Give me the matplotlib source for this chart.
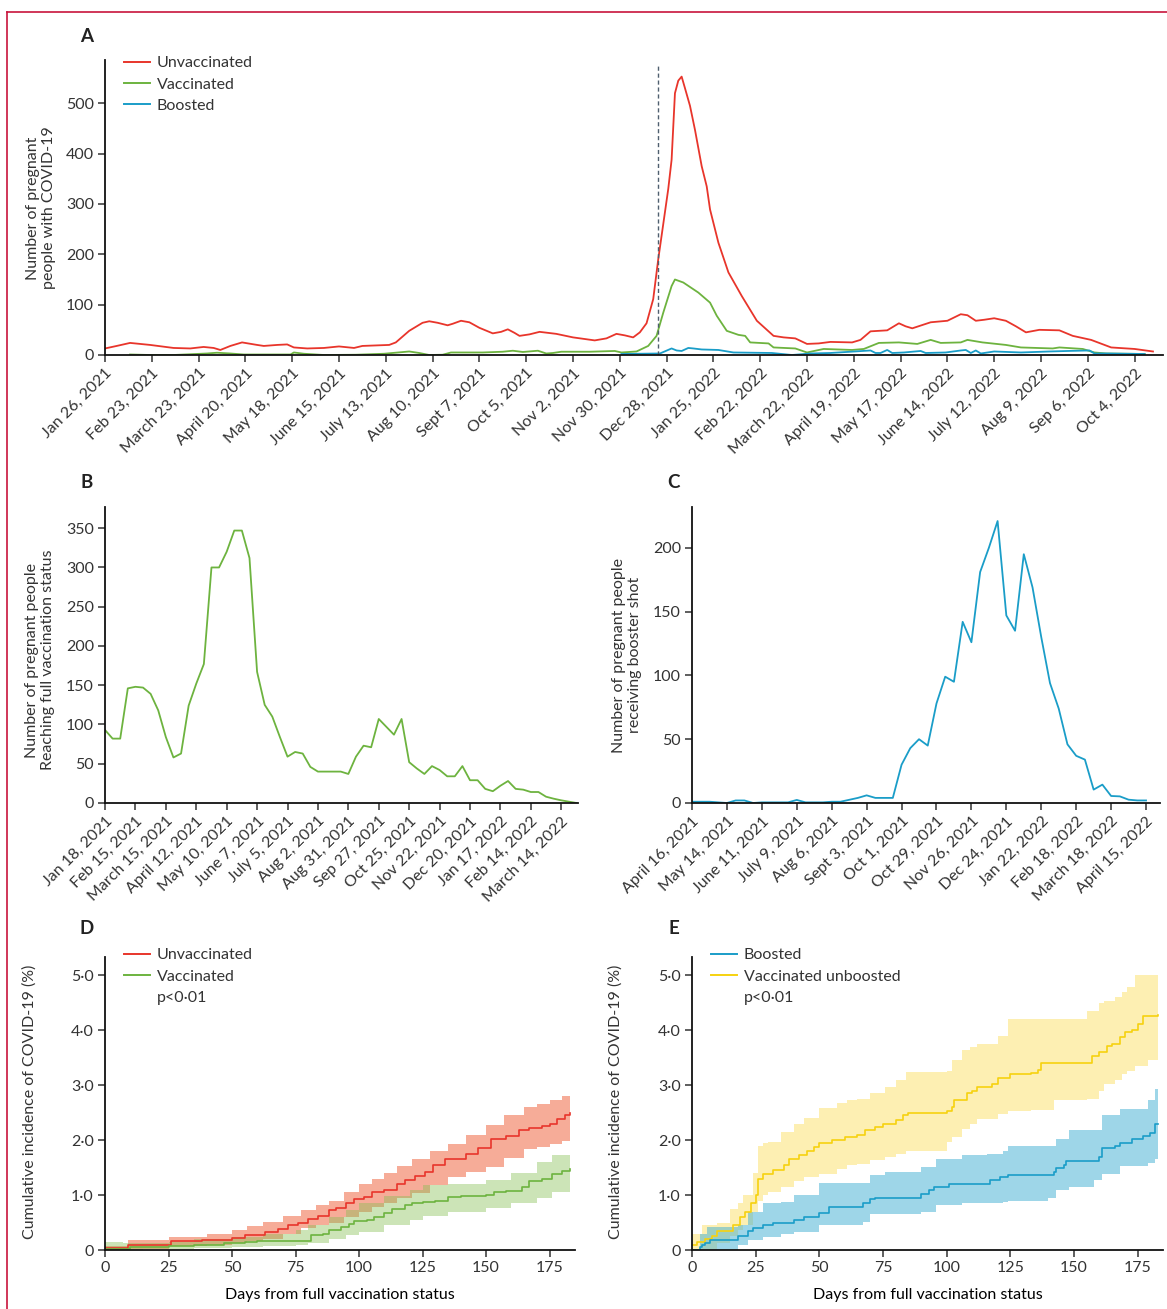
import matplotlib
matplotlib.use("Agg")
import matplotlib.pyplot as plt
from matplotlib.lines import Line2D
import numpy as np

W, H = 1167, 1309

# ---------------- panel A: daily cases (days since Jan 26, 2021) ----------------
a_tick_labels = ["Jan 26, 2021", "Feb 23, 2021", "March 23, 2021", "April 20, 2021",
                 "May 18, 2021", "June 15, 2021", "July 13, 2021", "Aug 10, 2021",
                 "Sept 7, 2021", "Oct 5, 2021", "Nov 2, 2021", "Nov 30, 2021",
                 "Dec 28, 2021", "Jan 25, 2022", "Feb 22, 2022", "March 22, 2022",
                 "April 19, 2022", "May 17, 2022", "June 14, 2022", "July 12, 2022",
                 "Aug 9, 2022", "Sep 6, 2022", "Oct 4, 2022"]
omicron_day = 331

unvax_days = [0, 7, 15, 27, 41, 51, 59, 65, 69, 75, 82, 91, 95, 103, 109, 113, 121, 131, 140, 149,
              154, 162, 170, 174, 182, 190, 194, 199, 205, 208, 213, 218, 224, 232, 237, 241, 245, 248, 254, 260,
              270, 280, 293, 300, 306, 311, 316, 320, 324, 328, 331, 334, 337, 339, 341, 343, 345, 347, 350, 353,
              357, 360, 362, 367, 373, 381, 390, 400, 406, 413, 420, 427, 434, 447, 452, 458, 468, 475, 479, 483,
              494, 504, 512, 516, 521, 526, 532, 539, 545, 551, 559, 571, 579, 590, 602, 616, 627]
unvax_cases = [13, 18, 24, 20, 14, 13, 16, 14, 10, 18, 25, 20, 18, 20, 21, 15, 13, 14, 17, 14,
               18, 19, 20, 25, 48, 64, 67, 64, 59, 62, 68, 65, 54, 43, 46, 51, 44, 38, 41, 46,
               42, 35, 29, 33, 42, 39, 35, 45, 63, 111, 190, 260, 330, 388, 520, 545, 553, 530, 495, 447,
               375, 335, 289, 223, 164, 117, 68, 38, 35, 33, 22, 23, 26, 25, 30, 47, 49, 63, 57, 53,
               65, 68, 81, 79, 68, 70, 73, 68, 57, 45, 50, 49, 38, 30, 15, 12, 7]

vax_days = [15, 27, 41, 61, 67, 75, 83, 111, 113, 119, 131, 150, 167, 182, 188, 194, 202, 207, 226, 238,
            244, 250, 259, 264, 268, 273, 290, 305, 309, 318, 325, 330, 334, 339, 341, 346, 355, 362, 366, 372,
            379, 383, 386, 397, 400, 413, 420, 430, 447, 454, 463, 475, 486, 494, 500, 512, 516, 525, 539, 548,
            567, 571, 585, 592, 599, 622]
vax_cases = [1, 0, 0, 3, 4.5, 3, 1, 1, 5, 2.5, 0, 0.5, 2.5, 7, 4, 0, 0.5, 5, 5, 6.5,
             8.5, 6, 8.5, 3, 4, 6.5, 6.5, 8, 5, 7, 18, 38, 84, 137, 150, 144, 124, 104, 78, 48,
             40, 38, 25, 23, 15, 13, 5, 12, 10, 12, 24, 25, 22, 30, 24, 25, 30, 25, 20, 15,
             13, 15, 12, 5, 3, 2]

boost_days = [309, 332, 339, 342, 345, 349, 352, 357, 367, 376, 399, 411, 422, 434, 458, 461, 464, 468,
              471, 478, 488, 491, 503, 512, 515, 518, 521, 524, 532, 548, 565, 576, 589, 592, 599, 622]
boost_cases = [2, 3, 13, 9, 8, 14, 13, 11, 10, 5, 4, 0, 3, 4, 9, 4, 4, 10,
               4, 5, 8, 4, 5, 9, 10, 4, 9, 3, 7, 5, 7, 8, 9, 3, 3, 2]

# ---------------- panel B: weekly full vaccinations ----------------
b_tick_labels = ["Jan 18, 2021", "Feb 15, 2021", "March 15, 2021", "April 12, 2021",
                 "May 10, 2021", "June 7, 2021", "July 5, 2021", "Aug 2, 2021",
                 "Aug 31, 2021", "Sep 27, 2021", "Oct 25, 2021", "Nov 22, 2021",
                 "Dec 20, 2021", "Jan 17, 2022", "Feb 14, 2022", "March 14, 2022"]
full_vax_weekly = [93, 82, 82, 146, 148, 147, 139, 118, 84, 58, 63, 124, 152, 177, 300, 300, 320, 347,
                   347, 312, 167, 125, 110, 84, 59, 65, 63, 46, 40, 40, 40, 40, 37, 59, 73, 71, 107,
                   97, 87, 107, 52, 44, 37, 47, 42, 34, 34, 47, 29, 29, 18, 15, 22, 28, 18, 17, 14,
                   14, 8, 5.5, 3.4, 1.7, 0]

# ---------------- panel C: weekly booster shots ----------------
c_tick_labels = ["April 16, 2021", "May 14, 2021", "June 11, 2021", "July 9, 2021",
                 "Aug 6, 2021", "Sept 3, 2021", "Oct 1, 2021", "Oct 29, 2021",
                 "Nov 26, 2021", "Dec 24, 2021", "Jan 22, 2022", "Feb 18, 2022",
                 "March 18, 2022", "April 15, 2022"]
booster_weekly = [1, 1, 1, 0.5, 0, 2, 2, 0, 0.5, 0.5,
                  0.5, 0.5, 2.4, 0.5, 0.5, 0.5, 1, 1, 2.5, 4,
                  6, 4, 4, 4, 30, 43, 50, 45, 78, 99,
                  95, 142, 126, 181, 200, 221, 147, 135, 195, 169,
                  130, 94, 74, 46, 37, 34, 10.5, 14.4, 5.5, 5.2,
                  2.6, 2, 2]

# ---------------- panel D: cumulative incidence ----------------
d_unvax_days = [0, 9, 26, 38, 50, 55, 63, 68, 72, 76, 80, 84, 88, 91, 95, 98, 102, 105, 110, 115,
                118, 122, 126, 129, 134, 142, 147, 152, 158, 163, 167, 172, 175, 178, 181, 183]
d_unvax_inc = [0.03, 0.1, 0.17, 0.19, 0.22, 0.28, 0.33, 0.38, 0.45, 0.5, 0.57, 0.62, 0.72, 0.77, 0.85,
               0.93, 0.97, 1.05, 1.1, 1.2, 1.28, 1.35, 1.42, 1.55, 1.65, 1.75, 1.85, 2.02, 2.08, 2.18,
               2.22, 2.25, 2.3, 2.38, 2.45, 2.5]
d_unvax_ci_days = [0, 9, 25, 40, 50, 56, 62, 70, 77, 83, 88, 94, 100, 105, 110, 115, 121, 128, 135,
                   142, 150, 157, 165, 170, 175, 180, 183]
d_unvax_ci_lo = [0, 0.02, 0.08, 0.1, 0.12, 0.16, 0.2, 0.3, 0.4, 0.45, 0.5, 0.6, 0.7, 0.78, 0.85, 0.95,
                 1.03, 1.18, 1.33, 1.42, 1.51, 1.67, 1.84, 1.88, 1.93, 1.98, 2.03]
d_unvax_ci_hi = [0.08, 0.18, 0.24, 0.3, 0.36, 0.43, 0.51, 0.62, 0.73, 0.82, 0.9, 1.05, 1.2, 1.3, 1.4,
                 1.52, 1.66, 1.8, 1.93, 2.1, 2.27, 2.45, 2.6, 2.65, 2.72, 2.8, 2.93]

d_vax_days = [0, 10, 25, 35, 47, 55, 60, 81, 86, 88, 93, 96, 98, 103, 106, 110, 113, 118, 121, 125,
              130, 135, 140, 150, 153, 158, 164, 167, 172, 176, 180, 183]
d_vax_inc = [0.02, 0.05, 0.08, 0.1, 0.12, 0.14, 0.17, 0.27, 0.3, 0.36, 0.42, 0.48, 0.52, 0.55, 0.6,
             0.68, 0.75, 0.82, 0.85, 0.87, 0.9, 0.96, 0.98, 1.0, 1.05, 1.08, 1.15, 1.25, 1.3, 1.38,
             1.43, 1.47]
d_vax_ci_days = [0, 7, 15, 25, 35, 50, 62, 75, 80, 88, 95, 100, 110, 120, 125, 135, 150, 160, 170, 176, 183]
d_vax_ci_lo = [0, 0, 0.01, 0.01, 0.03, 0.05, 0.07, 0.09, 0.12, 0.2, 0.27, 0.33, 0.45, 0.55, 0.62, 0.7,
               0.76, 0.85, 0.95, 1.05, 1.15]
d_vax_ci_hi = [0.15, 0.12, 0.12, 0.15, 0.2, 0.24, 0.3, 0.36, 0.45, 0.6, 0.72, 0.85, 0.98, 1.1, 1.18,
               1.2, 1.27, 1.4, 1.6, 1.72, 1.8]

# ---------------- panel E: cumulative incidence ----------------
e_boost_days = [0, 3, 4, 5, 7, 18, 22, 24, 28, 32, 40, 44, 50, 54, 67, 70, 72, 90, 93, 95,
                101, 117, 121, 124, 142, 143, 146, 147, 160, 161, 166, 168, 173, 177, 180, 182, 183]
e_boost_inc = [0.0, 0.05, 0.1, 0.13, 0.18, 0.25, 0.35, 0.4, 0.45, 0.5, 0.55, 0.6, 0.68, 0.78, 0.85,
               0.92, 0.95, 1.02, 1.1, 1.15, 1.2, 1.28, 1.33, 1.37, 1.42, 1.5, 1.55, 1.62, 1.7, 1.85,
               1.9, 1.95, 2.02, 2.08, 2.12, 2.3, 2.3]
e_boost_ci_days = [3, 6, 18, 22, 28, 35, 40, 50, 67, 70, 76, 90, 96, 106, 116, 122, 124, 140, 143,
                   148, 158, 161, 168, 179, 182, 183]
e_boost_ci_lo = [0, 0, 0.09, 0.18, 0.24, 0.3, 0.33, 0.45, 0.51, 0.65, 0.65, 0.7, 0.82, 0.85, 0.85,
                 0.88, 0.9, 0.95, 1.09, 1.15, 1.27, 1.39, 1.52, 1.58, 1.66, 1.66]
e_boost_ci_hi = [0.3, 0.42, 0.45, 0.7, 0.85, 0.88, 1.0, 1.21, 1.21, 1.36, 1.42, 1.51, 1.66, 1.72, 1.75,
                 1.8, 1.9, 1.9, 2.02, 2.18, 2.18, 2.45, 2.57, 2.72, 2.93, 2.93]

e_unboost_days = [0, 2, 5, 8, 10, 16, 19, 21, 23, 25, 26, 28, 32, 36, 38, 42, 45, 48, 50, 55,
                  60, 65, 68, 72, 75, 80, 83, 85, 100, 102, 103, 108, 110, 112, 118, 120, 125, 133, 136, 137,
                  155, 157, 160, 163, 165, 168, 170, 173, 175, 177, 183]
e_unboost_inc = [0.1, 0.15, 0.2, 0.25, 0.35, 0.45, 0.6, 0.7, 0.85, 1.0, 1.3, 1.38, 1.45, 1.55, 1.65,
                 1.72, 1.8, 1.88, 1.95, 2.0, 2.05, 2.1, 2.18, 2.23, 2.3, 2.37, 2.45, 2.5, 2.53, 2.6,
                 2.72, 2.85, 2.9, 2.97, 3.02, 3.13, 3.2, 3.22, 3.28, 3.4, 3.4, 3.52, 3.6, 3.72, 3.75,
                 3.88, 3.97, 4.0, 4.12, 4.25, 4.28]
e_unboost_ci_days = [0, 4, 10, 15, 18, 20, 24, 26, 28, 30, 35, 40, 44, 50, 57, 61, 65, 70, 76, 80,
                     84, 100, 102, 106, 109, 112, 120, 124, 133, 142, 155, 160, 162, 166, 169, 171, 174, 179, 183]
e_unboost_ci_lo = [0, 0.01, 0.12, 0.25, 0.36, 0.45, 0.7, 0.9, 1.0, 1.05, 1.15, 1.25, 1.33, 1.39, 1.48,
                   1.54, 1.57, 1.63, 1.69, 1.75, 1.81, 1.96, 2.05, 2.2, 2.3, 2.38, 2.48, 2.52, 2.54, 2.72,
                   2.75, 2.9, 3.02, 3.1, 3.2, 3.25, 3.35, 3.45, 3.54]
e_unboost_ci_hi = [0.3, 0.45, 0.5, 0.75, 0.85, 1.0, 1.4, 1.9, 1.95, 1.97, 2.15, 2.3, 2.4, 2.58, 2.68,
                   2.72, 2.75, 2.85, 2.96, 3.1, 3.23, 3.25, 3.45, 3.63, 3.7, 3.75, 3.9, 4.2, 4.2, 4.2,
                   4.35, 4.5, 4.53, 4.6, 4.7, 4.78, 5.0, 5.0, 5.0]

pct_ticks = [0, 1, 2, 3, 4, 5]
pct_labels = ["0", "1·0", "2·0", "3·0", "4·0", "5·0"]
day_ticks = [0, 25, 50, 75, 100, 125, 150, 175]

# ---------------- styling ----------------
RED = "#e8352b"
GREEN = "#6db33f"
BLUE = "#1a9dc8"
YELLOW = "#f6d20f"
TEXT = "#333333"

plt.rcParams["font.family"] = ["Lato", "DejaVu Sans"]
plt.rcParams["font.size"] = 11.5
plt.rcParams["text.color"] = TEXT

fig = plt.figure(figsize=(W / 100, H / 100), dpi=100)


def px_axes(left, top, right, bottom):
    return fig.add_axes([left / W, 1 - bottom / H, (right - left) / W, (bottom - top) / H])


def style(ax):
    for s in ["top", "right"]:
        ax.spines[s].set_visible(False)
    for s in ["left", "bottom"]:
        ax.spines[s].set_linewidth(1.3)
        ax.spines[s].set_color("#111111")
    ax.tick_params(length=5, width=1.1, color="#333333", labelcolor=TEXT, pad=3)


def fig_text(x, y, s, **kw):
    fig.text(x / W, 1 - y / H, s, **kw)


def legend(ax, entries, x, y):
    handles = [Line2D([], [], color=c, lw=1.4, label=l) for l, c in entries]
    ax.legend(handles=handles, loc="upper left", bbox_to_anchor=(x / W, 1 - y / H),
              bbox_transform=fig.transFigure, frameon=False, borderpad=0, borderaxespad=0,
              handlelength=1.65, handletextpad=0.4, labelspacing=0.45, fontsize=11.5)


# ---- A ----
axA = px_axes(105, 60, 1163, 355)
axA.plot(unvax_days, unvax_cases, color=RED, lw=1.3)
axA.plot(vax_days, vax_cases, color=GREEN, lw=1.3)
axA.plot(boost_days, boost_cases, color=BLUE, lw=1.3)
axA.vlines(omicron_day, 0, 578, colors="#4f5f6f", linestyles=(0, (3, 2)), lw=1.0)
axA.set_xlim(0, 633)
axA.set_ylim(0, 586)
axA.set_yticks([0, 100, 200, 300, 400, 500])
axA.set_xticks(np.arange(len(a_tick_labels)) * 28)
axA.set_xticklabels(a_tick_labels, rotation=45, ha="right", rotation_mode="anchor")
style(axA)
legend(axA, [("Unvaccinated", RED), ("Vaccinated", GREEN), ("Boosted", BLUE)], 124, 56)
fig_text(41, 208, "Number of pregnant\npeople with COVID-19", rotation=90, ha="center", va="center",
         linespacing=1.15)

# ---- B ----
axB = px_axes(105, 507, 578, 803)
axB.plot(np.arange(len(full_vax_weekly)), full_vax_weekly, color=GREEN, lw=1.3)
axB.set_xlim(0, 62.2)
axB.set_ylim(0, 377)
axB.set_yticks([0, 50, 100, 150, 200, 250, 300, 350])
axB.set_xticks(np.arange(len(b_tick_labels)) * 4)
axB.set_xticklabels(b_tick_labels, rotation=45, ha="right", rotation_mode="anchor")
style(axB)
fig_text(40, 660, "Number of pregnant people\nReaching full vaccination status", rotation=90,
         ha="center", va="center", linespacing=1.15)

# ---- C ----
axC = px_axes(692, 507, 1160, 803)
axC.plot(np.arange(len(booster_weekly)), booster_weekly, color=BLUE, lw=1.3)
axC.set_xlim(0, 53.6)
axC.set_ylim(0, 232)
axC.set_yticks([0, 50, 100, 150, 200])
axC.set_xticks(np.arange(len(c_tick_labels)) * 4)
axC.set_xticklabels(c_tick_labels, rotation=45, ha="right", rotation_mode="anchor")
style(axC)
fig_text(627, 655, "Number of pregnant people\nreceiving booster shot", rotation=90,
         ha="center", va="center", linespacing=1.15)

# ---- D ----
axD = px_axes(105, 957, 575, 1250)
axD.fill_between(d_unvax_ci_days, d_unvax_ci_lo, d_unvax_ci_hi, step="post", color="#ee5a32",
                 alpha=0.5, lw=0)
axD.fill_between(d_vax_ci_days, d_vax_ci_lo, d_vax_ci_hi, step="post", color="#86bf55",
                 alpha=0.42, lw=0)
axD.plot(d_unvax_days, d_unvax_inc, drawstyle="steps-post", color=RED, lw=1.2)
axD.plot(d_vax_days, d_vax_inc, drawstyle="steps-post", color=GREEN, lw=1.2)
axD.set_xlim(0, 185)
axD.set_ylim(0, 5.33)
axD.set_yticks(pct_ticks)
axD.set_yticklabels(pct_labels)
axD.set_xticks(day_ticks)
axD.set_xlabel("Days from full vaccination status", labelpad=9)
style(axD)
legend(axD, [("Unvaccinated", RED), ("Vaccinated", GREEN), ("p<0·01", "none")], 124, 948)
fig_text(30, 1102, "Cumulative incidence of COVID-19 (%)", rotation=90, ha="center", va="center")

# ---- E ----
axE = px_axes(692, 957, 1163, 1250)
axE.fill_between(e_unboost_ci_days, e_unboost_ci_lo, e_unboost_ci_hi, step="post", color="#fbd948",
                 alpha=0.42, lw=0)
axE.fill_between(e_boost_ci_days, e_boost_ci_lo, e_boost_ci_hi, step="post", color="#3eaed3",
                 alpha=0.5, lw=0)
axE.plot(e_unboost_days, e_unboost_inc, drawstyle="steps-post", color=YELLOW, lw=1.2)
axE.plot(e_boost_days, e_boost_inc, drawstyle="steps-post", color=BLUE, lw=1.2)
axE.set_xlim(0, 185)
axE.set_ylim(0, 5.33)
axE.set_yticks(pct_ticks)
axE.set_yticklabels(pct_labels)
axE.set_xticks(day_ticks)
axE.set_xlabel("Days from full vaccination status", labelpad=9)
style(axE)
legend(axE, [("Boosted", BLUE), ("Vaccinated unboosted", YELLOW), ("p<0·01", "none")], 711, 948)
fig_text(616, 1102, "Cumulative incidence of COVID-19 (%)", rotation=90, ha="center", va="center")

# panel letters
for letter, x, y in [("A", 87, 36), ("B", 87, 482), ("C", 674, 482), ("D", 87, 929), ("E", 674, 929)]:
    fig_text(x, y, letter, fontsize=13.5, fontweight="bold", ha="center", va="center", color="#222222")

# page frame
fig.add_artist(Line2D([7 / W, 7 / W], [0, 1 - 12 / H], transform=fig.transFigure, color="#c8143c", lw=1.2))
fig.add_artist(Line2D([7 / W, 1], [1 - 12 / H, 1 - 12 / H], transform=fig.transFigure, color="#c8143c", lw=1.2))

fig.savefig("out.png", dpi=100)
